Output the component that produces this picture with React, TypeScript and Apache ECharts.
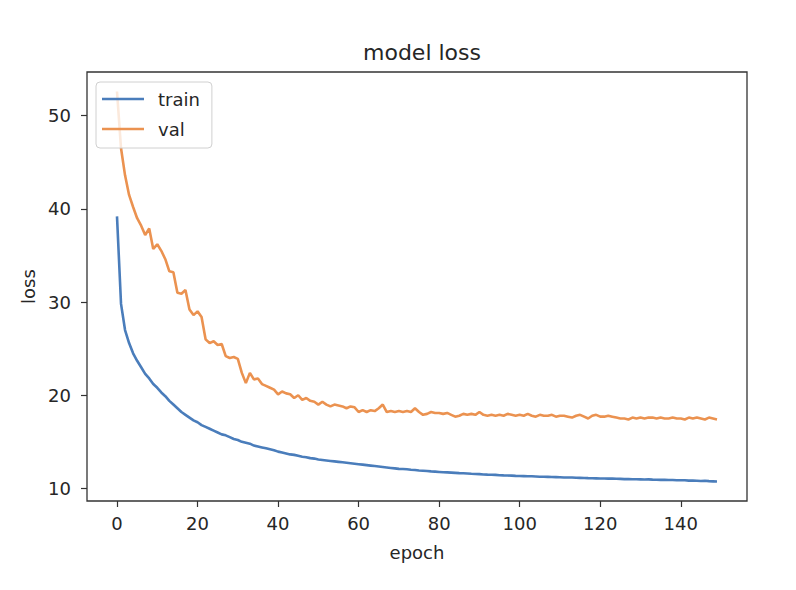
import React, { useEffect, useRef } from "react";
import * as echarts from "echarts";

const title = "model loss";
const xName = "epoch";
const yName = "loss";
const xTicks = [0, 20, 40, 60, 80, 100, 120, 140];
const yTicks = [10, 20, 30, 40, 50];

const train = [
  39.2, 29.8, 27.0, 25.6, 24.5, 23.7, 23.0, 22.3, 21.8, 21.2,
  20.8, 20.3, 19.9, 19.4, 19.0, 18.6, 18.2, 17.9, 17.6, 17.3,
  17.1, 16.8, 16.6, 16.4, 16.2, 16.0, 15.8, 15.7, 15.5, 15.3,
  15.2, 15.0, 14.9, 14.8, 14.6, 14.5, 14.4, 14.3, 14.2, 14.1,
  13.95, 13.85, 13.75, 13.65, 13.6, 13.5, 13.4, 13.35, 13.25, 13.2,
  13.1, 13.05, 13.0, 12.95, 12.9, 12.85, 12.8, 12.75, 12.7, 12.65,
  12.6, 12.55, 12.5, 12.45, 12.4, 12.35, 12.3, 12.25, 12.2, 12.15,
  12.1, 12.08, 12.05, 12.0, 11.97, 11.93, 11.9, 11.87, 11.83, 11.8,
  11.77, 11.74, 11.72, 11.7, 11.67, 11.64, 11.62, 11.6, 11.57, 11.55,
  11.53, 11.5, 11.48, 11.47, 11.45, 11.42, 11.4, 11.39, 11.37, 11.35,
  11.34, 11.32, 11.3, 11.3, 11.28, 11.26, 11.25, 11.24, 11.22, 11.21,
  11.2, 11.18, 11.17, 11.18, 11.14, 11.13, 11.12, 11.1, 11.09, 11.08,
  11.07, 11.06, 11.05, 11.06, 11.03, 11.02, 11.0, 11.01, 10.99, 10.98,
  10.97, 10.96, 10.97, 10.94, 10.93, 10.92, 10.93, 10.9, 10.9, 10.88,
  10.87, 10.88, 10.84, 10.85, 10.83, 10.79, 10.82, 10.78, 10.76, 10.74,
];

const val = [
  52.6, 46.5, 43.6, 41.5, 40.2, 39.0, 38.2, 37.2, 37.9, 35.7,
  36.2, 35.5, 34.6, 33.3, 33.2, 31.0, 30.9, 31.3, 29.2, 28.6,
  29.0, 28.4, 26.0, 25.6, 25.8, 25.4, 25.5, 24.2, 24.0, 24.1,
  23.9, 22.4, 21.3, 22.4, 21.7, 21.8, 21.2, 21.0, 20.8, 20.6,
  20.1, 20.4, 20.2, 20.1, 19.7, 20.0, 19.5, 19.7, 19.4, 19.3,
  19.0, 19.3, 19.0, 18.8, 19.0, 18.9, 18.8, 18.6, 18.8, 18.7,
  18.2, 18.4, 18.2, 18.4, 18.3, 18.6, 19.0, 18.2, 18.3, 18.2,
  18.3, 18.2, 18.3, 18.2, 18.6, 18.2, 17.9, 18.0, 18.2, 18.1,
  18.1, 18.0, 18.1, 17.9, 17.7, 17.8, 18.0, 17.9, 18.0, 17.9,
  18.2, 17.9, 17.8, 17.9, 17.8, 17.9, 17.8, 18.0, 17.9, 17.8,
  17.9, 17.8, 18.0, 17.8, 17.7, 17.9, 17.8, 17.8, 17.9, 17.7,
  17.8, 17.8, 17.7, 17.6, 17.8, 17.9, 17.7, 17.5, 17.8, 17.9,
  17.7, 17.7, 17.8, 17.7, 17.6, 17.5, 17.5, 17.4, 17.6, 17.5,
  17.6, 17.5, 17.6, 17.6, 17.5, 17.6, 17.5, 17.5, 17.6, 17.5,
  17.5, 17.4, 17.6, 17.5, 17.6, 17.5, 17.4, 17.6, 17.5, 17.4,
];

const FONT = "DejaVu Sans";
const TXT = "#262626";
const SPINE = "#333333";
const BLUE = "#4a7dbb";
const ORANGE = "#eb9250";

export default function App() {
  const ref = useRef<HTMLDivElement>(null);
  useEffect(() => {
    if (!ref.current) return;
    const chart = echarts.init(ref.current, undefined, { renderer: "svg" });
    const trainData = train.map((v, i) => [i, v]);
    const valData = val.map((v, i) => [i, v]);
    chart.setOption({
      animation: false,
      backgroundColor: "#ffffff",
      textStyle: { fontFamily: FONT },
      title: {
        text: title,
        left: 417,
        top: 36,
        textAlign: "center",
        textStyle: { fontFamily: FONT, fontSize: 22, fontWeight: "normal", color: TXT },
      },
      legend: {
        orient: "vertical",
        left: 96,
        top: 82,
        padding: [7, 12, 9, 6],
        itemGap: 10,
        itemWidth: 42,
        itemHeight: 2.6,
        icon: "rect",
        backgroundColor: "rgba(255,255,255,0.8)",
        borderColor: "#d0d0d0",
        borderWidth: 1,
        borderRadius: 4,
        textStyle: { fontFamily: FONT, fontSize: 18, color: TXT, lineHeight: 20, padding: [0, 0, 0, 9] },
        data: ["train", "val"],
      },
      grid: {
        left: 87,
        right: 49,
        top: 72,
        bottom: 89,
        show: true,
        borderColor: SPINE,
        borderWidth: 1.3,
        backgroundColor: "transparent",
      },
      xAxis: {
        type: "value",
        min: -7.45,
        max: 156.45,
        name: xName,
        nameLocation: "middle",
        nameGap: 42,
        nameTextStyle: { fontFamily: FONT, fontSize: 18, color: TXT },
        axisLine: { show: false, onZero: false },
        axisTick: { show: true, length: 6, lineStyle: { color: SPINE, width: 1.2 }, customValues: xTicks },
        axisLabel: { fontFamily: FONT, fontSize: 18, color: TXT, margin: 13, customValues: xTicks },
        splitLine: { show: false },
      },
      yAxis: {
        type: "value",
        min: 8.65,
        max: 54.69,
        name: yName,
        nameLocation: "middle",
        nameGap: 50,
        nameTextStyle: { fontFamily: FONT, fontSize: 18, color: TXT },
        axisLine: { show: false, onZero: false },
        axisTick: { show: true, length: 6, lineStyle: { color: SPINE, width: 1.2 }, customValues: yTicks },
        axisLabel: { fontFamily: FONT, fontSize: 18, color: TXT, margin: 16, customValues: yTicks },
        splitLine: { show: false },
      },
      series: [
        {
          name: "train",
          type: "line",
          data: trainData,
          symbol: "none",
          lineStyle: { color: BLUE, width: 2.6 },
          itemStyle: { color: BLUE },
        },
        {
          name: "val",
          type: "line",
          data: valData,
          symbol: "none",
          lineStyle: { color: ORANGE, width: 2.6 },
          itemStyle: { color: ORANGE },
        },
      ],
    });
    return () => chart.dispose();
  }, []);
  return (
    <div
      ref={ref}
      style={{ position: "fixed", left: 0, top: 0, width: 796, height: 590, background: "#fff" }}
    />
  );
}
